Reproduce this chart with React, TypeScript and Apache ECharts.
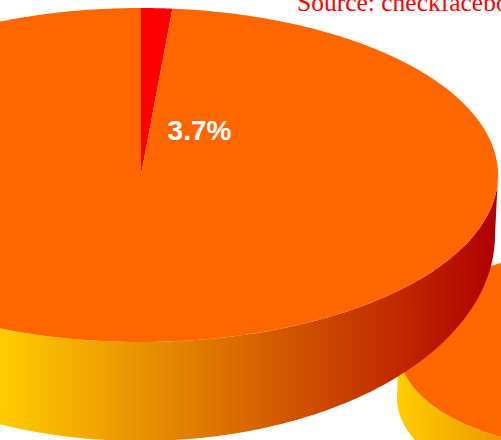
import React, { useEffect, useRef } from 'react';
import * as echarts from 'echarts';

// ---- data ----
const pieASliceNames = ['Highlighted', 'Rest'];
const pieASliceValues = [1.4, 98.6];
const pieBSliceNames = ['Total'];
const pieBSliceValues = [100];
const dataLabelTexts = ['3.7%'];
const sourceText = 'Source: checkfacebook.com';

// ---- styles ----
const sliceColorsA = ['#FF0000', '#FF6600'];
const sliceColorsB = ['#FF6600'];
const sideStops = [
  { offset: 0, color: '#FFCC00' },
  { offset: 1, color: '#B00000' },
];

// ---- layout (3D pie geometry) ----
const layoutA = { cx: 141, cy: 175, rx: 357, ry: 167, bcx: 140, bcy: 235, brx: 355, bry: 206, gx0: 0, gx1: 498 };
const layoutB = { cx: 600, cy: 350, rx: 201, ry: 100, bcx: 599, bcy: 398, brx: 202, bry: 102, gx0: 399, gx1: 801 };

const TAU = Math.PI * 2;
function ellPt(cx: number, cy: number, rx: number, ry: number, t: number) {
  return [cx + rx * Math.sin(t), cy - ry * Math.cos(t)];
}

function makeRenderItem(values: number[], colors: string[], L: any) {
  const total = values.reduce((a, b) => a + b, 0);
  const starts: number[] = [];
  let acc = 0;
  values.forEach((v) => {
    starts.push(acc);
    acc += v;
  });
  return (params: any, api: any) => {
    const i = params.dataIndex;
    const v = api.value(0);
    const t0 = (starts[i] / total) * TAU;
    const t1 = ((starts[i] + v) / total) * TAU;
    const children: any[] = [];
    if (i === 0) {
      const pts: number[][] = [];
      const N = 240;
      for (let k = 0; k <= N; k++) {
        const t = Math.PI / 2 + (Math.PI * k) / N;
        pts.push(ellPt(L.cx, L.cy, L.rx, L.ry, t));
      }
      for (let k = N; k >= 0; k--) {
        const t = Math.PI / 2 + (Math.PI * k) / N;
        pts.push(ellPt(L.bcx, L.bcy, L.brx, L.bry, t));
      }
      children.push({
        type: 'polygon',
        shape: { points: pts },
        style: {
          fill: { type: 'linear', x: L.gx0, y: 0, x2: L.gx1, y2: 0, global: true, colorStops: sideStops },
        },
      });
    }
    const pts: number[][] = [[L.cx, L.cy]];
    const n = Math.max(4, Math.ceil(((t1 - t0) / TAU) * 720));
    for (let k = 0; k <= n; k++) {
      pts.push(ellPt(L.cx, L.cy, L.rx, L.ry, t0 + ((t1 - t0) * k) / n));
    }
    children.push({ type: 'polygon', shape: { points: pts }, style: { fill: colors[i % colors.length] } });
    return { type: 'group', children };
  };
}

export default function App() {
  const ref = useRef<HTMLDivElement>(null);
  useEffect(() => {
    document.body.style.margin = '0';
    const chart = echarts.init(ref.current!, undefined, { renderer: 'svg', width: 501, height: 440 });
    chart.setOption({
      animation: false,
      backgroundColor: '#ffffff',
      series: [
        {
          type: 'custom',
          coordinateSystem: 'none',
          silent: true,
          z: 1,
          renderItem: makeRenderItem(pieBSliceValues, sliceColorsB, layoutB),
          data: pieBSliceValues.map((v, i) => ({ name: pieBSliceNames[i], value: [v] })),
        },
        {
          type: 'custom',
          coordinateSystem: 'none',
          silent: true,
          z: 2,
          renderItem: makeRenderItem(pieASliceValues, sliceColorsA, layoutA),
          data: pieASliceValues.map((v, i) => ({ name: pieASliceNames[i], value: [v] })),
        },
      ],
      graphic: [
        {
          type: 'text',
          z: 100,
          style: {
            text: sourceText,
            x: 297,
            y: 2.5,
            verticalAlign: 'middle',
            fill: '#FF0000',
            fontSize: 25.5,
            fontFamily: '"Liberation Serif", serif',
          },
        },
        {
          type: 'text',
          z: 100,
          style: {
            text: dataLabelTexts[0],
            x: 199.5,
            y: 130,
            align: 'center',
            verticalAlign: 'middle',
            fill: '#FFFFFF',
            fontSize: 28,
            fontWeight: 'bold',
            fontFamily: '"Liberation Sans", Arial, sans-serif',
          },
        },
      ],
    });
    return () => chart.dispose();
  }, []);
  return <div ref={ref} style={{ width: 501, height: 440, position: 'fixed', left: 0, top: 0 }} />;
}
